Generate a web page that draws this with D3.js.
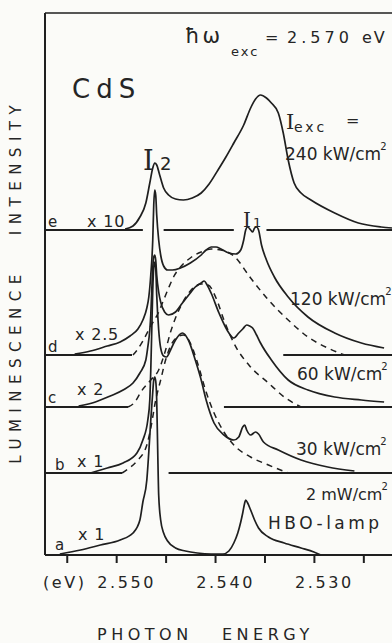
<!DOCTYPE html>
<html>
<head>
<meta charset="utf-8">
<script src="https://cdn.jsdelivr.net/npm/d3@7"></script>
<style>
  body { margin: 0; background: #fbfbf8; }
  text { font-family: "DejaVu Sans", sans-serif; fill: #252525; }
</style>
</head>
<body>
<div id="chart"></div>
<script>
// photon energy (eV) vs luminescence intensity (a.u., above each trace's own zero)
var energyTicks = [2.555, 2.550, 2.545, 2.540, 2.535, 2.530, 2.525];
var energyTickLabels = ["", "2.550", "", "2.540", "", "2.530", ""];

var traceNames = ["a", "b", "c", "d", "e"];
var traceGain = ["x 1", "x 1", "x 2", "x 2.5", "x 10"];
var traceOffset = [0, 82, 148, 200, 325];

var specA = [[2.5557,1],[2.5536,5],[2.5516,10],[2.5496,15],[2.5483,22],[2.5476,35],[2.5473,53],[2.5469,75],
  [2.5467,103],[2.5465,135],[2.5463,163],[2.5462,175],[2.5461,178],[2.5460,174],[2.5459,155],[2.5458,105],
  [2.5457,60],[2.5455,35],[2.5452,22],[2.5448,14],[2.5440,7],[2.5430,4],[2.5418,2],[2.5404,1],[2.5392,1],
  [2.5386,4],[2.5381,12],[2.5377,22],[2.5374,33],[2.5372,42],[2.5370,52],[2.5369,55],[2.5367,52],[2.5364,45],
  [2.5360,35],[2.5356,27],[2.5346,18],[2.5330,12],[2.5313,7],[2.5300,3],[2.5293,0]];

var specB = [[2.5526,0],[2.5509,5],[2.5493,10],[2.5479,20],[2.5473,33],[2.5468,53],[2.5466,73],[2.5465,103],
  [2.5464,143],[2.5463,183],[2.5462,205],[2.5461,211],[2.5460,205],[2.5459,178],[2.5457,143],[2.5455,125],
  [2.5452,117],[2.5449,116],[2.5445,123],[2.5440,133],[2.5433,140],[2.5427,133],[2.5420,113],[2.5414,93],
  [2.5409,73],[2.5401,50],[2.5391,38],[2.5381,33],[2.5376,36],[2.5372,46],[2.5370,48],[2.5368,43],[2.5364,38],
  [2.5359,41],[2.5356,39],[2.5351,31],[2.5336,23],[2.5313,13],[2.5286,6],[2.5259,2]];
var specBdash = [[2.5494,0],[2.5488,4],[2.5479,12],[2.5469,28],[2.5465,45],[2.5460,73],[2.5455,93],[2.5450,113],
  [2.5445,127],[2.5438,136],[2.5432,138],[2.5425,130],[2.5418,111],[2.5409,81],[2.5401,60],[2.5391,41],
  [2.5381,28],[2.5364,16],[2.5346,8],[2.5326,0]];

var specC = [[2.5538,1],[2.5521,5],[2.5506,11],[2.5493,17],[2.5483,24],[2.5476,34],[2.5470,47],[2.5468,60],
  [2.5466,77],[2.5465,92],[2.5464,117],[2.5463,139],[2.5462,150],[2.5461,152],[2.5460,147],[2.5459,132],
  [2.5457,115],[2.5455,105],[2.5451,95],[2.5447,92],[2.5440,95],[2.5433,104],[2.5425,114],[2.5420,120],
  [2.5414,124],[2.5411,126],[2.5408,122],[2.5404,114],[2.5396,94],[2.5386,74],[2.5381,69],[2.5376,74],
  [2.5372,78],[2.5368,82],[2.5365,81],[2.5362,79],[2.5358,72],[2.5354,64],[2.5343,47],[2.5326,27],
  [2.5306,17],[2.5279,10],[2.5252,7],[2.5229,5]];
var specCdash = [[2.5488,0],[2.5481,5],[2.5475,15],[2.5465,27],[2.5457,37],[2.5450,57],[2.5445,75],[2.5440,89],
  [2.5433,104],[2.5425,116],[2.5414,123],[2.5407,122],[2.5399,109],[2.5391,87],[2.5381,64],[2.5364,40],
  [2.5346,24],[2.5330,10],[2.5313,0]];

var specD = [[2.5542,1],[2.5526,4],[2.5509,9],[2.5496,13],[2.5486,19],[2.5478,26],[2.5473,35],[2.5469,47],
  [2.5467,58],[2.5465,80],[2.5463,115],[2.5462,150],[2.5461,165],[2.5460,160],[2.5459,140],[2.5457,115],
  [2.5455,100],[2.5452,89],[2.5448,85],[2.5443,85],[2.5435,87],[2.5425,92],[2.5414,100],[2.5409,105],
  [2.5404,108],[2.5399,108],[2.5394,106],[2.5386,102],[2.5379,101],[2.5374,105],[2.5371,115],[2.5369,125],
  [2.5367,128],[2.5364,125],[2.5362,123],[2.5360,127],[2.5358,128],[2.5356,125],[2.5353,110],[2.5348,95],
  [2.5340,78],[2.5326,58],[2.5306,38],[2.5279,22],[2.5252,12],[2.5229,7]];
var specDdash = [[2.5483,0],[2.5478,6],[2.5473,14],[2.5465,29],[2.5457,43],[2.5452,55],[2.5447,67],[2.5442,78],
  [2.5435,88],[2.5425,97],[2.5414,103],[2.5404,106],[2.5394,105],[2.5381,99],[2.5364,77],[2.5346,55],
  [2.5326,35],[2.5306,18],[2.5286,7],[2.5269,0]];

var specE = [[2.5491,1],[2.5483,4],[2.5476,13],[2.5470,27],[2.5466,47],[2.5463,62],[2.5461,67],[2.5459,65],
  [2.5456,55],[2.5452,42],[2.5447,35],[2.5440,31],[2.5432,30],[2.5423,32],[2.5414,37],[2.5406,46],
  [2.5397,60],[2.5389,73],[2.5381,87],[2.5371,105],[2.5364,122],[2.5359,131],[2.5354,135],[2.5348,132],
  [2.5343,127],[2.5336,117],[2.5331,97],[2.5326,70],[2.5320,47],[2.5313,37],[2.5303,30],[2.5279,17],
  [2.5255,7],[2.5232,3],[2.5221,2]];

// zero lines of the upper traces, broken where the spectra cross them
var zeroB = [[2.5572, 2.5494], [2.5447, 2.5221]];
var zeroC = [[2.5572, 2.5488], [2.5391, 2.5221]];
var zeroD = [[2.5572, 2.5484], [2.5331, 2.5221]];
var zeroE = [[2.5572, 2.5473], [2.5452, 2.5381], [2.5348, 2.5221]];

var solid = [specA, specB, specC, specD, specE];
var dashed = [null, specBdash, specCdash, specDdash, null];
var zeros = [null, zeroB, zeroC, zeroD, zeroE];

var W = 392, H = 643;
var svg = d3.select("#chart").append("svg")
    .attr("width", W)
    .attr("height", H);

var x = d3.scaleLinear().domain([2.5572, 2.5221]).range([45, 392]);
var y = d3.scaleLinear().domain([0, 542]).range([555, 13]);

var ink = "#1f1f1f";

// frame: top and left edges, bottom axis
svg.append("line").attr("x1", x.range()[0]).attr("x2", x.range()[1])
    .attr("y1", y.range()[1]).attr("y2", y.range()[1])
    .attr("stroke", ink).attr("stroke-width", 1.5);
svg.append("line").attr("x1", x.range()[0]).attr("x2", x.range()[0])
    .attr("y1", y.range()[1]).attr("y2", y.range()[0])
    .attr("stroke", ink).attr("stroke-width", 2);
svg.append("line").attr("x1", x.range()[0]).attr("x2", x.range()[1])
    .attr("y1", y(0)).attr("y2", y(0))
    .attr("stroke", ink).attr("stroke-width", 2);

var axis = svg.append("g")
    .attr("transform", "translate(0," + y(0) + ")")
    .call(d3.axisBottom(x).tickValues(energyTicks).tickSize(8).tickSizeOuter(0)
      .tickFormat(function(d, i) { return energyTickLabels[i]; }));
axis.select(".domain").remove();
axis.selectAll(".tick line").attr("stroke", ink).attr("stroke-width", 2);
axis.selectAll(".tick text")
    .attr("y", 33).attr("dy", 0).attr("dx", 10)
    .style("font-size", "16px").style("letter-spacing", "2.6px")
    .attr("fill", ink);

svg.append("text").attr("x", 43).attr("y", 588)
    .style("font-size", "16px").style("letter-spacing", "2.6px").text("(eV)");

// spectra
var line = d3.line()
    .x(function(d) { return x(d[0]); })
    .y(function(d) { return d[1]; })
    .curve(d3.curveMonotoneX);

solid.forEach(function(s, i) {
  var off = traceOffset[i];
  svg.append("path")
      .attr("d", line(s.map(function(p) { return [p[0], y(off + p[1])]; })))
      .attr("fill", "none").attr("stroke", ink).attr("stroke-width", 1.7);
  if (dashed[i]) {
    svg.append("path")
        .attr("d", line(dashed[i].map(function(p) { return [p[0], y(off + p[1])]; })))
        .attr("fill", "none").attr("stroke", ink).attr("stroke-width", 1.5)
        .attr("stroke-dasharray", "6,5");
  }
  if (zeros[i]) {
    zeros[i].forEach(function(seg) {
      svg.append("line")
          .attr("x1", x(seg[0])).attr("x2", x(seg[1]))
          .attr("y1", y(off)).attr("y2", y(off))
          .attr("stroke", ink).attr("stroke-width", 1.8);
    });
  }
});

// trace letters and gains
var nameXY = [[55, 550], [55, 470], [48, 403], [48, 352], [48, 227]];
var gainXY = [[78, 540], [77, 467], [77, 395], [75, 340], [87, 227]];
traceNames.forEach(function(n, i) {
  svg.append("text").attr("x", nameXY[i][0]).attr("y", nameXY[i][1])
      .style("font-size", "15px").text(n);
  svg.append("text").attr("x", gainXY[i][0]).attr("y", gainXY[i][1])
      .style("font-size", "16px").style("letter-spacing", "0.8px").text(traceGain[i]);
});

// excitation intensities
var powerText = ["2 mW/cm", "30 kW/cm", "60 kW/cm", "120 kW/cm", "240 kW/cm"];
var powerXY = [[306, 500], [296, 455], [297, 380], [290, 305], [285, 160]];
var powerSize = [16, 17, 17, 17, 17];
powerText.forEach(function(t, i) {
  var tx = svg.append("text").attr("x", powerXY[i][0]).attr("y", powerXY[i][1])
      .style("font-size", powerSize[i] + "px");
  tx.append("tspan").text(t);
  tx.append("tspan").attr("dy", -10).attr("dx", -1).style("font-size", "10px").text("2");
});

svg.append("text").attr("x", 268).attr("y", 529)
    .style("font-size", "17px").style("letter-spacing", "3.5px").text("HBO-lamp");

// header and peak labels
svg.append("text").attr("x", 72).attr("y", 98)
    .style("font-size", "26px").style("letter-spacing", "6px").text("CdS");

svg.append("text").attr("x", 185).attr("y", 43)
    .style("font-size", "21px").style("letter-spacing", "3px").text("ħω");
svg.append("text").attr("x", 231).attr("y", 56)
    .style("font-size", "13px").style("letter-spacing", "2px").text("exc");
svg.append("text").attr("x", 265).attr("y", 43)
    .style("font-size", "16px").text("=");
svg.append("text").attr("x", 287).attr("y", 43)
    .style("font-size", "16px").style("letter-spacing", "4px").text("2.570");
svg.append("text").attr("x", 362).attr("y", 43)
    .style("font-size", "16px").style("letter-spacing", "2px").text("eV");

svg.append("text").attr("x", 286).attr("y", 129)
    .style("font-family", "DejaVu Serif, serif").style("font-size", "21px").text("I");
svg.append("text").attr("x", 294).attr("y", 132)
    .style("font-size", "14px").style("letter-spacing", "3px").text("exc");
svg.append("text").attr("x", 346).attr("y", 126)
    .style("font-size", "16px").text("=");

svg.append("text").attr("x", 143).attr("y", 170)
    .style("font-family", "DejaVu Serif, serif").style("font-size", "27px").text("I");
svg.append("text").attr("x", 160).attr("y", 170)
    .style("font-size", "18px").text("2");

svg.append("text").attr("x", 243).attr("y", 227)
    .style("font-family", "DejaVu Serif, serif").style("font-size", "20px").text("I");
svg.append("text").attr("x", 253).attr("y", 227)
    .style("font-size", "13px").text("1");

// axis titles
svg.append("text").attr("transform", "translate(21,366) rotate(-90)")
    .attr("text-anchor", "middle")
    .style("font-size", "15px").style("letter-spacing", "6.5px").text("LUMINESCENCE");
svg.append("text").attr("transform", "translate(21,167) rotate(-90)")
    .attr("text-anchor", "middle")
    .style("font-size", "15px").style("letter-spacing", "6.5px").text("INTENSITY");

svg.append("text").attr("x", 97).attr("y", 640)
    .style("font-size", "16px").style("letter-spacing", "4.5px").text("PHOTON");
svg.append("text").attr("x", 222).attr("y", 640)
    .style("font-size", "16px").style("letter-spacing", "4.5px").text("ENERGY");
</script>
</body>
</html>
